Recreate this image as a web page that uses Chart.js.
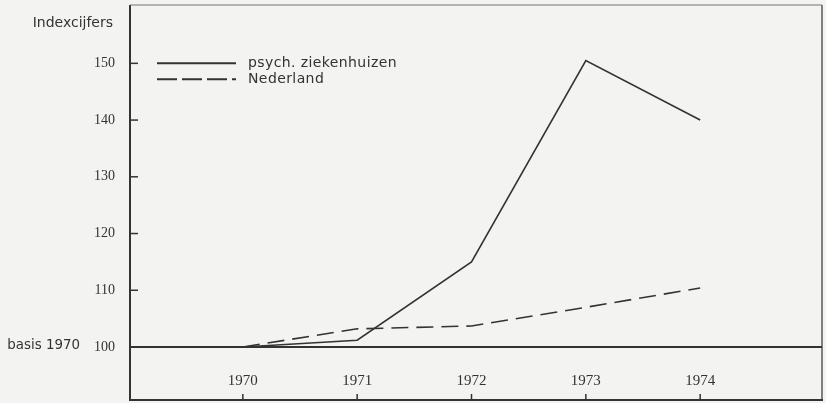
<!DOCTYPE html>
<html><head><meta charset="utf-8">
<script src="https://cdn.jsdelivr.net/npm/chart.js@4"></script>
<style>html,body{margin:0;padding:0;background:#f3f3f1;}#wrap{width:826px;height:403px;position:relative;}</style>
</head><body><div id="wrap"><canvas id="c" width="826" height="403"></canvas></div>
<script>
const years = [1970, 1971, 1972, 1973, 1974];
const psychZiekenhuizen = [100, 101.2, 115, 150.5, 140];
const nederland = [100, 103.2, 103.7, 107, 110.4];
const yTicks = [100, 110, 120, 130, 140, 150];
const yTickLabels = ['100', '110', '120', '130', '140', '150'];
const seriesLabels = ['psych. ziekenhuizen', 'Nederland'];
const axisTitle = 'Indexcijfers';
const baseLabel = 'basis 1970';

const INK = '#333333';
const SANS = '"DejaVu Sans", sans-serif';
const SERIF = '"Liberation Serif", serif';

const framePlugin = {
  id: 'frame',
  afterDraw(chart) {
    const ctx = chart.ctx;
    const xs = chart.scales.x, ys = chart.scales.y;
    const L = 130, R = 822, T = 5, B = 400;
    ctx.save();
    ctx.strokeStyle = INK; ctx.lineCap = 'butt';
    ctx.lineWidth = 2;
    ctx.beginPath(); ctx.moveTo(L, T); ctx.lineTo(L, B + 1); ctx.stroke();
    ctx.beginPath(); ctx.moveTo(L - 1, B); ctx.lineTo(R + 1, B); ctx.stroke();
    ctx.lineWidth = 1.2;
    ctx.beginPath(); ctx.moveTo(R, T); ctx.lineTo(R, B); ctx.stroke();
    ctx.strokeStyle = '#777';
    ctx.beginPath(); ctx.moveTo(L, T); ctx.lineTo(R, T); ctx.stroke();
    ctx.strokeStyle = INK;
    const y100 = ys.getPixelForValue(100);
    ctx.lineWidth = 2;
    ctx.beginPath(); ctx.moveTo(L, y100); ctx.lineTo(R, y100); ctx.stroke();
    ctx.lineWidth = 1.5;
    yTicks.forEach(v => {
      const y = ys.getPixelForValue(v);
      ctx.beginPath(); ctx.moveTo(L, y); ctx.lineTo(L + 8, y); ctx.stroke();
    });
    years.forEach(v => {
      const x = xs.getPixelForValue(v);
      ctx.beginPath(); ctx.moveTo(x, B - 6); ctx.lineTo(x, B); ctx.stroke();
    });
    ctx.fillStyle = INK;
    ctx.textBaseline = 'middle';
    ctx.textAlign = 'right';
    ctx.font = '14px ' + SANS;
    ctx.fillText(axisTitle, 113, 23);
    ctx.font = '13.4px ' + SANS;
    ctx.fillText(baseLabel, 80, y100 - 1);
    const items = [
      { label: chart.data.datasets[0].label, dash: [], y: ys.getPixelForValue(150) },
      { label: chart.data.datasets[1].label, dash: [20, 5], y: ys.getPixelForValue(147.2) }
    ];
    ctx.font = '14px ' + SANS;
    try { ctx.letterSpacing = '0.4px'; } catch (e) {}
    items.forEach(it => {
      ctx.setLineDash(it.dash);
      ctx.lineWidth = 2;
      ctx.beginPath(); ctx.moveTo(157, it.y); ctx.lineTo(236, it.y); ctx.stroke();
      ctx.setLineDash([]);
      ctx.textAlign = 'left';
      ctx.fillText(it.label, 248, it.y);
    });
    ctx.restore();
  }
};

new Chart(document.getElementById('c'), {
  type: 'line',
  data: {
    datasets: [
      { label: seriesLabels[0], data: years.map((y, i) => ({ x: y, y: psychZiekenhuizen[i] })),
        borderColor: INK, borderWidth: 1.6, pointRadius: 0, tension: 0, fill: false },
      { label: seriesLabels[1], data: years.map((y, i) => ({ x: y, y: nederland[i] })),
        borderColor: INK, borderWidth: 1.6, borderDash: [17, 8], pointRadius: 0, tension: 0, fill: false }
    ]
  },
  options: {
    responsive: false, animation: false, devicePixelRatio: 1,
    layout: { padding: { left: 0, right: 4, top: 5, bottom: 4 } },
    plugins: { legend: { display: false }, tooltip: { enabled: false } },
    scales: {
      x: {
        type: 'linear', min: 1970 - 113 / 114.5, max: 1974 + 122 / 114.5,
        afterBuildTicks: s => { s.ticks = years.map(v => ({ value: v })); },
        afterFit: s => { s.height = 46; },
        ticks: { callback: v => String(v), font: { family: SERIF, size: 15 }, color: INK, padding: 19, maxRotation: 0, autoSkip: false },
        grid: { display: false, drawTicks: false }, border: { display: false }
      },
      y: {
        min: 98.94, max: 157.04,
        afterBuildTicks: s => { s.ticks = yTicks.map(v => ({ value: v })); },
        afterFit: s => { s.width = 130; },
        ticks: { callback: v => yTickLabels[yTicks.indexOf(v)], font: { family: SERIF, size: 14 }, color: INK, padding: 15 },
        grid: { display: false, drawTicks: false }, border: { display: false }
      }
    }
  },
  plugins: [framePlugin]
});
</script></body></html>
